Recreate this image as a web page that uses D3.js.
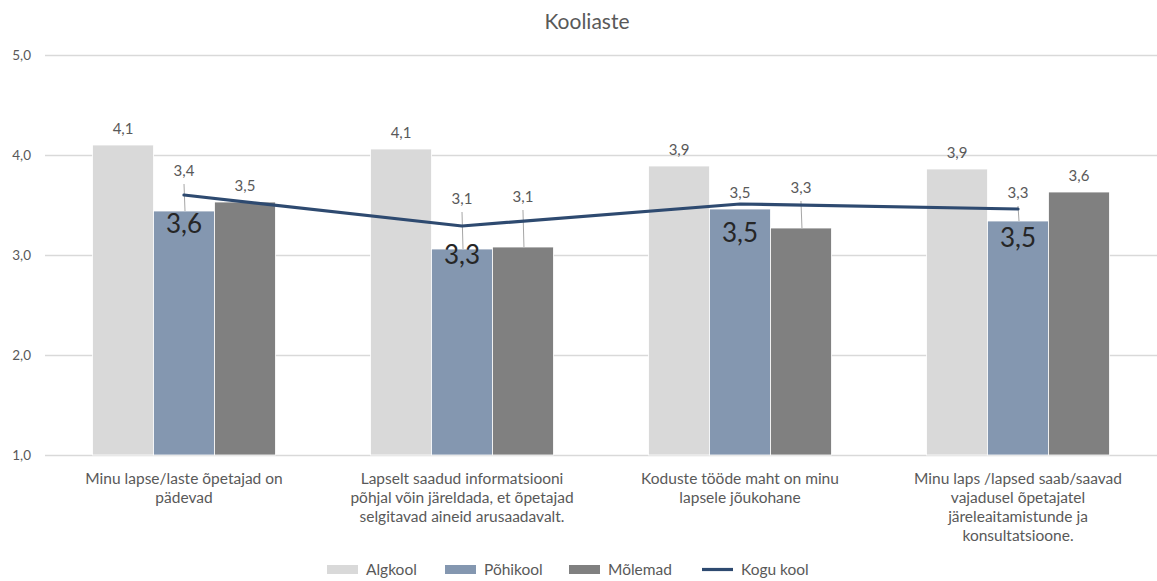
<!DOCTYPE html>
<html>
<head>
<meta charset="utf-8">
<script src="https://cdn.jsdelivr.net/npm/d3@7"></script>
<style>
  html, body { margin: 0; padding: 0; background: #fff; }
  svg { display: block; font-family: Lato, "Open Sans", sans-serif; }
</style>
</head>
<body>
<svg id="chart" width="1157" height="581"></svg>
<script>
// ---- data ----
const title = "Kooliaste";
const categories = [
  "Minu lapse/laste õpetajad on pädevad",
  "Lapselt saadud informatsiooni põhjal võin järeldada, et õpetajad selgitavad aineid arusaadavalt.",
  "Koduste tööde maht on minu lapsele jõukohane",
  "Minu laps /lapsed saab/saavad vajadusel õpetajatel järeleaitamistunde ja konsultatsioone."
];
const categoryLines = [
  ["Minu lapse/laste õpetajad on", "pädevad"],
  ["Lapselt saadud informatsiooni", "põhjal võin järeldada, et õpetajad", "selgitavad aineid arusaadavalt."],
  ["Koduste tööde maht on minu", "lapsele jõukohane"],
  ["Minu laps /lapsed saab/saavad", "vajadusel õpetajatel", "järeleaitamistunde ja", "konsultatsioone."]
];
const barSeries = ["Algkool", "Põhikool", "Mõlemad"];
const lineSeries = "Kogu kool";
const algkool  = [4.10, 4.06, 3.89, 3.86];
const pohikool = [3.44, 3.06, 3.46, 3.34];
const molemad  = [3.53, 3.08, 3.27, 3.63];
const koguKool = [3.60, 3.29, 3.51, 3.46];
const yTicks = [1, 2, 3, 4, 5];

// ---- style / layout ----
const colors = { "Algkool": "#D9D9D9", "Põhikool": "#8497B0", "Mõlemad": "#808080", "Kogu kool": "#2E4A70" };
const textColor = "#595959";
// extra lift (px) of individual bar labels that sit higher with a leader line
const labelLift = {
  "Algkool":  [0, 0, 0, 0],
  "Põhikool": [24, 34, 0, 12],
  "Mõlemad":  [0, 34, 24, 0]
};

const svg = d3.select("#chart");
const plot = { left: 45, right: 1157, top: 55, bottom: 455 };

const x0 = d3.scaleBand().domain(categories).range([plot.left, plot.right]).paddingInner(0).paddingOuter(0);
const x1 = d3.scaleBand().domain(barSeries).range([0, x0.bandwidth()]).paddingInner(0).paddingOuter(0.78);
const y = d3.scaleLinear().domain([1, 5]).range([plot.bottom, plot.top]);
const fmt = v => d3.format(".1f")(v).replace(".", ",");

// title
svg.append("text").attr("x", 587).attr("y", 29).attr("text-anchor", "middle")
  .attr("font-size", 21).attr("fill", textColor).text(title);

// gridlines
svg.append("g").selectAll("line").data(yTicks).join("line")
  .attr("x1", plot.left).attr("x2", plot.right)
  .attr("y1", d => Math.round(y(d)) + 0.5).attr("y2", d => Math.round(y(d)) + 0.5)
  .attr("stroke", "#D9D9D9").attr("stroke-width", 1.3);

// y axis labels
const yAxis = d3.axisLeft(y).tickValues(yTicks).tickFormat(fmt).tickSize(0).tickPadding(0);
const yg = svg.append("g").attr("transform", `translate(31,0)`).call(yAxis);
yg.select(".domain").remove();
yg.selectAll("text").attr("font-size", 13.5).attr("fill", textColor).attr("font-family", "Lato, sans-serif");

// bars
const seriesData = { "Algkool": algkool, "Põhikool": pohikool, "Mõlemad": molemad };
const groups = svg.append("g").selectAll("g").data(categories).join("g")
  .attr("transform", d => `translate(${x0(d)},0)`);
groups.selectAll("rect").data((c, i) => barSeries.map(s => ({ s, v: seriesData[s][i], i })))
  .join("rect")
  .attr("x", d => x1(d.s)).attr("width", x1.bandwidth())
  .attr("y", d => y(d.v)).attr("height", d => y(1) - y(d.v))
  .attr("fill", d => colors[d.s]).attr("stroke", "#fff").attr("stroke-width", 0.8);

// bar labels + leader lines
groups.each(function (c, i) {
  const g = d3.select(this);
  barSeries.forEach(s => {
    const v = seriesData[s][i];
    const cx = x1(s) + x1.bandwidth() / 2;
    const lift = labelLift[s][i];
    const base = y(v) - 11 - lift;
    if (lift > 0) {
      g.append("line").attr("x1", cx).attr("x2", cx + 1)
        .attr("y1", base + 8).attr("y2", y(v))
        .attr("stroke", "#A6A6A6").attr("stroke-width", 1);
    }
    g.append("text").attr("x", cx).attr("y", base).attr("text-anchor", "middle")
      .attr("font-size", 15).attr("fill", textColor).text(fmt(v));
  });
});

// line
const lx = (d, i) => x0(categories[i]) + x0.bandwidth() / 2;
const line = d3.line().x(lx).y(d => y(d)).curve(d3.curveLinear);
svg.append("path").datum(koguKool).attr("d", line)
  .attr("fill", "none").attr("stroke", colors["Kogu kool"]).attr("stroke-width", 3.2)
  .attr("stroke-linejoin", "round").attr("stroke-linecap", "round");

// line labels (large, below points)
svg.append("g").selectAll("text").data(koguKool).join("text")
  .attr("x", lx).attr("y", d => y(d) + 38).attr("text-anchor", "middle")
  .attr("font-size", 26).attr("fill", "#262626").text(d => fmt(d));

// category labels
svg.append("g").selectAll("text").data(categories).join("text")
  .attr("text-anchor", "middle").attr("font-size", 15.5).attr("fill", textColor)
  .attr("transform", d => `translate(${x0(d) + x0.bandwidth() / 2},484)`)
  .each(function (d, i) {
    d3.select(this).selectAll("tspan").data(categoryLines[i]).join("tspan")
      .attr("x", 0).attr("dy", (t, j) => j === 0 ? 0 : 19).text(t => t);
  });

// legend
const legendItems = [
  { name: "Algkool", type: "rect", x: 327 },
  { name: "Põhikool", type: "rect", x: 445 },
  { name: "Mõlemad", type: "rect", x: 569 },
  { name: "Kogu kool", type: "line", x: 702 }
];
const lg = svg.append("g");
legendItems.forEach(it => {
  if (it.type === "rect") {
    lg.append("rect").attr("x", it.x).attr("y", 565).attr("width", 31).attr("height", 9)
      .attr("fill", colors[it.name]);
  } else {
    lg.append("line").attr("x1", it.x).attr("x2", it.x + 31).attr("y1", 569.5).attr("y2", 569.5)
      .attr("stroke", colors[it.name]).attr("stroke-width", 3.2);
  }
  lg.append("text").attr("x", it.x + 39).attr("y", 575).attr("font-size", 15.5)
    .attr("fill", textColor).text(it.name);
});
</script>
</body>
</html>
